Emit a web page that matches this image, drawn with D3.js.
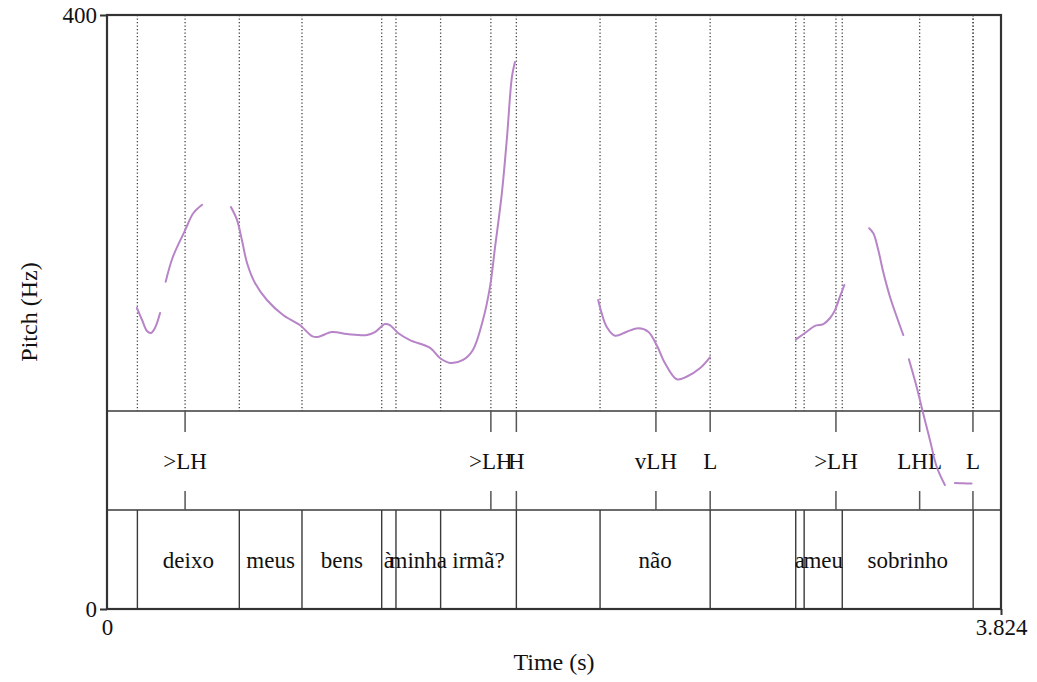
<!DOCTYPE html>
<html>
<head>
<meta charset="utf-8">
<script src="https://cdn.jsdelivr.net/npm/d3@7/dist/d3.min.js"></script>
<style>
  html, body { margin: 0; padding: 0; background: #fff; }
  svg text { font-family: "Liberation Serif", "Times New Roman", serif; fill: #111; }
</style>
</head>
<body>
<svg id="chart" width="1037" height="682"></svg>
<script>
// Time axis and pitch range
const timeDomain = [0, 3.824];
const pitchDomain = [0, 400];
const pitchTicks = [0, 400];
const timeTicks = [0, 3.824];

// Word tier: interval boundaries (s) and labels
const wordBounds = [0, 0.130, 0.566, 0.834, 1.175, 1.236, 1.427, 1.751, 2.109, 2.580, 2.946, 2.982, 3.145, 3.705, 3.824];
const words = ["", "deixo", "meus", "bens", "à", "minha", "irmã?", "", "não", "", "a", "meu", "sobrinho", ""];

// Tone tier: point times (s) and labels
const toneTimes = [0.334, 1.642, 1.751, 2.348, 2.580, 3.118, 3.476, 3.704];
const toneLabels = [">LH", ">LH", "H", "vLH", "L", ">LH", "LHL", "L"];

// F0 contour (time s, Hz), one array per voiced stretch
const f0Seg1 = [[0.128, 202.7], [0.150, 194.6], [0.171, 187.2], [0.188, 185.9], [0.205, 189.2], [0.227, 199.3]];
const f0Seg2 = [[0.251, 220.4], [0.282, 237.2], [0.334, 255.0], [0.369, 266.5], [0.407, 272.2]];
const f0Seg3 = [[0.530, 270.7], [0.556, 262.0], [0.577, 248.5], [0.599, 233.0], [0.633, 219.5], [0.684, 208.1],
  [0.753, 198.0], [0.825, 191.2], [0.877, 183.8], [0.902, 183.2], [0.962, 186.5], [1.027, 185.2],
  [1.112, 184.5], [1.146, 186.5], [1.189, 191.9], [1.210, 191.2], [1.245, 185.9], [1.296, 181.1],
  [1.382, 175.8], [1.424, 169.0], [1.467, 165.7], [1.523, 167.7], [1.565, 174.4], [1.608, 194.6],
  [1.638, 216.8], [1.660, 243.8], [1.689, 280.1], [1.711, 317.8], [1.732, 358.3], [1.745, 368.4]];
const f0Seg4 = [[2.101, 208.1], [2.116, 199.1], [2.137, 190.1], [2.173, 184.0], [2.223, 186.7], [2.273, 189.0],
  [2.315, 186.7], [2.351, 177.8], [2.387, 165.5], [2.437, 154.7], [2.479, 156.4], [2.536, 162.1], [2.579, 169.5]];
const f0Seg5 = [[2.947, 181.6], [2.993, 186.7], [3.028, 190.6], [3.064, 191.9], [3.092, 195.8], [3.114, 201.3],
  [3.135, 210.3], [3.154, 218.2]];
const f0Seg6 = [[3.260, 256.4], [3.278, 253.0], [3.299, 241.8], [3.320, 227.1], [3.349, 210.3], [3.378, 196.8], [3.406, 184.5]];
const f0Seg7 = [[3.430, 168.2], [3.463, 149.7], [3.491, 131.8], [3.520, 113.8], [3.549, 95.8], [3.584, 83.5]];
const f0Seg8 = [[3.627, 84.8], [3.662, 84.6], [3.698, 84.5]];
const f0Segments = [f0Seg1, f0Seg2, f0Seg3, f0Seg4, f0Seg5, f0Seg6, f0Seg7, f0Seg8];

// Layout
const plotLeft = 107, plotRight = 1001, plotTop = 15, plotBottom = 609;
const svg = d3.select("#chart");
const x = d3.scaleLinear().domain(timeDomain).range([plotLeft, plotRight]);
const y = d3.scaleLinear().domain(pitchDomain).range([plotBottom, plotTop]);
const plotH = plotBottom - plotTop;
const toneTop = plotTop + plotH * 4 / 6;
const wordTop = plotTop + plotH * 5 / 6;
const fontFamily = '"Liberation Serif", "Times New Roman", serif';

// Dotted guides in the pitch area at every boundary and tone point
const guideTimes = Array.from(new Set(wordBounds.slice(1, -1).concat(toneTimes)));
svg.append("g").selectAll("line").data(guideTimes).join("line")
  .attr("x1", d => x(d)).attr("x2", d => x(d))
  .attr("y1", plotTop).attr("y2", toneTop)
  .attr("stroke", "#444").attr("stroke-width", 1.3)
  .attr("stroke-dasharray", "1.3 2.2");

// Tier dividers
svg.append("g").selectAll("line").data([toneTop, wordTop]).join("line")
  .attr("x1", plotLeft).attr("x2", plotRight)
  .attr("y1", d => d).attr("y2", d => d)
  .attr("stroke", "#3a3a3a").attr("stroke-width", 1.3);

// Tone tier: tick marks and labels
const toneG = svg.append("g");
toneG.selectAll("line.tt").data(toneTimes).join("line").attr("class", "tt")
  .attr("x1", d => x(d)).attr("x2", d => x(d))
  .attr("y1", toneTop).attr("y2", toneTop + 21)
  .attr("stroke", "#555").attr("stroke-width", 1.5);
toneG.selectAll("line.tb").data(toneTimes).join("line").attr("class", "tb")
  .attr("x1", d => x(d)).attr("x2", d => x(d))
  .attr("y1", wordTop - 19).attr("y2", wordTop)
  .attr("stroke", "#555").attr("stroke-width", 1.5);
toneG.selectAll("text").data(toneTimes).join("text")
  .attr("x", d => x(d)).attr("y", (toneTop + wordTop) / 2)
  .attr("dy", "0.35em").attr("text-anchor", "middle")
  .attr("font-size", 23)
  .text((d, i) => toneLabels[i]);

// Word tier: boundaries and labels
const wordG = svg.append("g");
wordG.selectAll("line").data(wordBounds.slice(1, -1)).join("line")
  .attr("x1", d => x(d)).attr("x2", d => x(d))
  .attr("y1", wordTop).attr("y2", plotBottom)
  .attr("stroke", "#3a3a3a").attr("stroke-width", 1.4);
wordG.selectAll("text").data(words).join("text")
  .attr("x", (d, i) => (x(wordBounds[i]) + x(wordBounds[i + 1])) / 2)
  .attr("y", (wordTop + plotBottom) / 2)
  .attr("dy", "0.35em").attr("text-anchor", "middle")
  .attr("font-size", 23)
  .text(d => d);

// F0 contour
const line = d3.line().x(d => x(d[0])).y(d => y(d[1])).curve(d3.curveCatmullRom.alpha(0.5));
svg.append("g").selectAll("path").data(f0Segments).join("path")
  .attr("d", line)
  .attr("fill", "none")
  .attr("stroke", "#b784c8")
  .attr("stroke-width", 2)
  .attr("stroke-linecap", "round");

// Frame
svg.append("rect")
  .attr("x", plotLeft).attr("y", plotTop)
  .attr("width", plotRight - plotLeft).attr("height", plotBottom - plotTop)
  .attr("fill", "none").attr("stroke", "#333").attr("stroke-width", 2.2);

// Axes
const yAxis = d3.axisLeft(y).tickValues(pitchTicks).tickSize(7).tickPadding(3).tickFormat(d3.format("d"));
const gy = svg.append("g").attr("transform", `translate(${plotLeft},0)`).call(yAxis);
const xAxis = d3.axisBottom(x).tickValues(timeTicks).tickSize(6).tickPadding(4)
  .tickFormat(d => d === 0 ? "0" : d3.format(".3f")(d));
const gx = svg.append("g").attr("transform", `translate(0,${plotBottom})`).call(xAxis);
[gy, gx].forEach(g => {
  g.select(".domain").remove();
  g.selectAll(".tick line").attr("stroke", "#333").attr("stroke-width", 2);
  g.selectAll(".tick text").attr("font-family", fontFamily).attr("font-size", 23).attr("fill", "#111");
});
gx.selectAll(".tick line").filter(d => d === 0).remove();

// Axis titles
svg.append("text")
  .attr("x", (plotLeft + plotRight) / 2).attr("y", 662)
  .attr("dy", "0.35em").attr("text-anchor", "middle")
  .attr("font-size", 24)
  .text("Time (s)");
svg.append("text")
  .attr("transform", `translate(29,${(plotTop + plotBottom) / 2}) rotate(-90)`)
  .attr("dy", "0.35em").attr("text-anchor", "middle")
  .attr("font-size", 24)
  .text("Pitch (Hz)");
</script>
</body>
</html>
